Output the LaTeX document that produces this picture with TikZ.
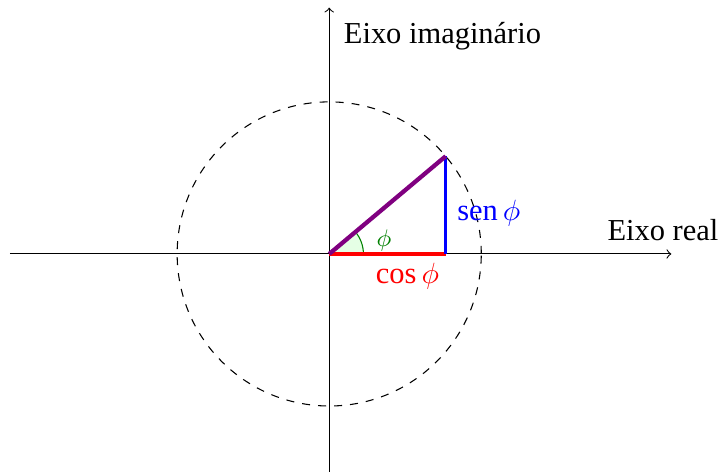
\documentclass[tikz,border=0pt]{standalone}
\usepackage{fontspec}
\setmainfont{Liberation Serif}
\usepackage{tikz}
\usetikzlibrary{positioning}

\tikzset{
  lbl/.style={font=\fontsize{11.4}{13.7}\selectfont},
}

\begin{document}
\begin{tikzpicture}
\useasboundingbox (-4.33,-2.86) rectangle (5.14,3.34);

  % Axes
  \coordinate (xl) at (-4.2,0);
  \coordinate (xr) at (4.5,0);
  \coordinate (yb) at (0,-3);
  \coordinate (yt) at (0,3.24);
  \draw[->] (xl) -- (xr);
  \draw[->] (yb) -- (yt);
  \node[lbl] (re) at (4.39,0.32) {Eixo real};
  \node[lbl] (im) at (1.49,2.87) {Eixo imaginário};

  % Unit circle
  \coordinate (o) at (0,0);
  \draw[dashed] (o) circle (2);

  % Triangle
  \coordinate (p) at (40:2);
  \coordinate (q) at (p |- o);
  \fill[green!10] (o) -- (0.45,0) arc (0:40:0.45) -- cycle;
  \draw[green!50!black] (0.45,0) arc (0:40:0.45);
  \draw[very thick, red] (o) -- (q);
  \draw[very thick, blue] (q) -- (p);
  \draw[ultra thick, violet] (o) -- (p);

  \node[lbl, red] (cos) at (1.03,-0.29) {cos\,\(\phi\)};
  \node[lbl, blue] (sen) at (2.1,0.54) {sen\,\(\phi\)};
  \node[green!50!black, font=\small] (phi) at (0.72,0.18) {\(\phi\)};
\end{tikzpicture}
\end{document}
